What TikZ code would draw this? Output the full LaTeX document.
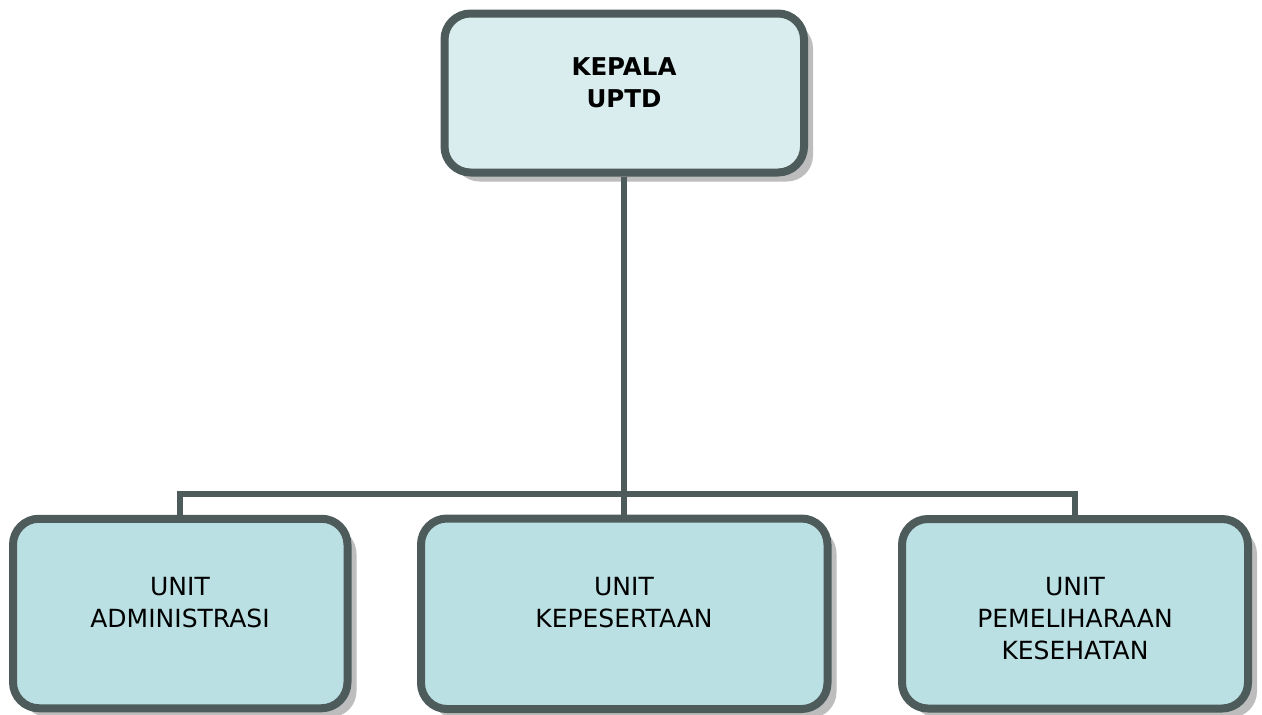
\documentclass[tikz,border=0pt]{standalone}
\usepackage{fontspec}
\setmainfont{DejaVu Sans}
\usetikzlibrary{shadows}
\definecolor{edge}{HTML}{4D5B5B}
\definecolor{topfill}{HTML}{D9EDEF}
\definecolor{unitfill}{HTML}{BAE0E3}
\definecolor{shade}{HTML}{BDBDBD}
\tikzset{
  orgbox/.style={draw=edge, line width=8pt, rounded corners=26pt, inner sep=0pt,
    drop shadow={shadow xshift=9pt, shadow yshift=-9pt, fill=shade, opacity=1}},
  headbox/.style={orgbox, fill=topfill},
  unitbox/.style={orgbox, fill=unitfill},
  lbl/.style={align=center, inner sep=0pt, anchor=north, font=\fontsize{25}{32}\selectfont},
  conn/.style={draw=edge, line width=6pt}
}
\begin{document}
\begin{tikzpicture}[x=1pt,y=-1pt]
\useasboundingbox (0,0) rectangle (1262,715);
\node[headbox, minimum width=359.5pt, minimum height=159pt] (kepala) at (624.25,93) {};
\node[unitbox, minimum width=334.5pt, minimum height=189.5pt] (adm) at (180.25,613.5) {};
\node[unitbox, minimum width=406.5pt, minimum height=190.5pt] (kep) at (624.25,613.75) {};
\node[unitbox, minimum width=346pt, minimum height=189.5pt] (pem) at (1075,613.75) {};
\node[lbl, font=\fontsize{24.5}{32}\selectfont\bfseries] (tk) at (624,57) {KEPALA\\UPTD};
\node[lbl] (ta) at (180,577) {UNIT\\ADMINISTRASI};
\node[lbl] (tb) at (624,577) {UNIT\\KEPESERTAAN};
\node[lbl] (tc) at (1075,577) {UNIT\\PEMELIHARAAN\\KESEHATAN};
\coordinate (hub) at (624,493.5);
\draw[conn] (kepala.south) -- (kep.north);
\draw[conn] (adm.north) |- (hub) -| (pem.north);
\end{tikzpicture}
\end{document}
